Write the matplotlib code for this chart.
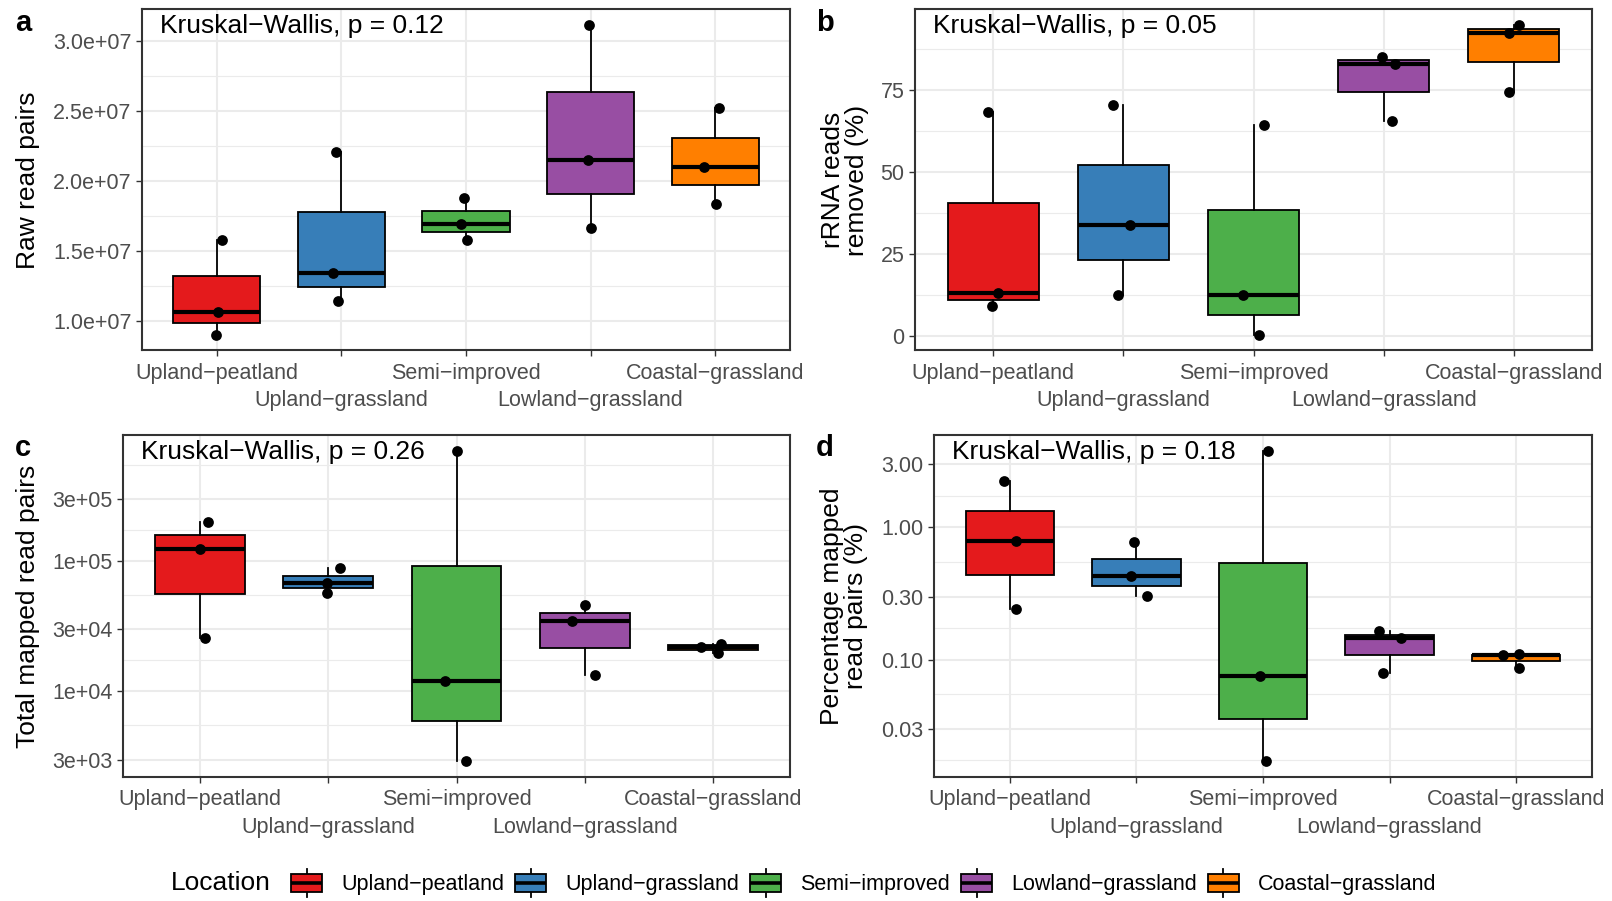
# Boxplots of read statistics per location (4 panels)
import numpy as np
import matplotlib
matplotlib.use("Agg")
import matplotlib.pyplot as plt
from matplotlib.patches import Rectangle
from matplotlib.lines import Line2D
from matplotlib.legend_handler import HandlerBase

plt.rcParams['font.family'] = ['Liberation Sans', 'DejaVu Sans']

# categories (in plotting order)
locations = ["Upland\u2212peatland", "Upland\u2212grassland", "Semi\u2212improved",
             "Lowland\u2212grassland", "Coastal\u2212grassland"]
colors = ["#E41A1C", "#377EB8", "#4DAF4A", "#984EA3", "#FF7F00"]

# values, three samples per location
raw_pairs = [[1.576e7, 1.062e7, 0.902e7],
             [2.207e7, 1.343e7, 1.14e7],
             [1.876e7, 1.69e7, 1.576e7],
             [3.119e7, 2.148e7, 1.662e7],
             [2.519e7, 2.10e7, 1.838e7]]
rrna_removed = [[68.3, 13.0, 9.1],
                [70.6, 33.8, 12.4],
                [64.3, 12.6, 0.5],
                [85.1, 83.0, 65.6],
                [95.0, 92.5, 74.5]]
total_mapped = [[2.01e5, 1.24e5, 2.56e4],
                [8.84e4, 6.8e4, 5.7e4],
                [7.06e5, 1.2e4, 2.9e3],
                [4.64e4, 3.47e4, 1.33e4],
                [2.19e4, 2.33e4, 1.98e4]]
pct_mapped = [[2.24, 0.787, 0.240],
              [0.778, 0.428, 0.302],
              [3.81, 0.0756, 0.017],
              [0.164, 0.146, 0.0797],
              [0.108, 0.110, 0.0869]]
p_values = ["0.12", "0.05", "0.26", "0.18"]

# horizontal jitter of the points as seen in the figure
jitter_x = [[[0.04, 0.01, -0.01], [-0.04, -0.065, -0.03], [-0.02, -0.04, 0.01], [-0.01, -0.02, 0.0], [0.03, -0.09, 0.01]],
            [[-0.04, 0.04, -0.01], [-0.08, 0.05, -0.04], [0.08, -0.08, 0.04], [-0.01, 0.09, 0.06], [0.04, -0.04, -0.04]],
            [[0.06, 0.0, 0.04], [0.09, -0.01, -0.01], [0.0, -0.09, 0.075], [0.0, -0.1, 0.08], [-0.09, 0.06, 0.035]],
            [[-0.05, 0.05, 0.05], [-0.02, -0.04, 0.08], [0.04, -0.02, 0.02], [-0.08, 0.09, -0.05], [-0.1, 0.02, 0.02]]]

# y axis ticks per panel
ticks_a = [1.0e7, 1.5e7, 2.0e7, 2.5e7, 3.0e7]
labels_a = ["1.0e+07", "1.5e+07", "2.0e+07", "2.5e+07", "3.0e+07"]
ticks_b = [0, 25, 50, 75]
labels_b = ["0", "25", "50", "75"]
ticks_c = [3e3, 1e4, 3e4, 1e5, 3e5]
labels_c = ["3e+03", "1e+04", "3e+04", "1e+05", "3e+05"]
ticks_d = [0.03, 0.10, 0.30, 1.00, 3.00]
labels_d = ["0.03", "0.10", "0.30", "1.00", "3.00"]

W, H = 1612, 901
fig = plt.figure(figsize=(W / 100, H / 100), dpi=100)

TICK_COL = "#4D4D4D"
FS_TICK = 15.5
FS_TITLE = 19


def px_axes(left, top, right, bottom):
    return fig.add_axes([left / W, 1 - bottom / H, (right - left) / W, (bottom - top) / H])


def draw_panel(ax, data, jit, log, ticks, tick_labels, pval):
    vals = [np.log10(d) if log else np.array(d, dtype=float) for d in data]
    tks = np.log10(ticks) if log else np.array(ticks, dtype=float)
    pos = np.arange(1, len(vals) + 1)
    bp = ax.boxplot(vals, positions=pos, widths=0.7, patch_artist=True,
                    showcaps=False, showfliers=False,
                    boxprops=dict(edgecolor="black", linewidth=1.3),
                    whiskerprops=dict(color="black", linewidth=1.3),
                    medianprops=dict(color="black", linewidth=3.0, solid_capstyle="butt"))
    for patch, c in zip(bp["boxes"], colors):
        patch.set_facecolor(c)
    for i, v in enumerate(vals):
        ax.scatter(pos[i] + np.array(jit[i]), v, s=60, color="black", zorder=5, linewidths=0)

    allv = np.concatenate(vals)
    lo, hi = allv.min(), allv.max()
    pad = 0.05 * (hi - lo)

    # minor grid halfway between the major ticks (log panels: steps alternate)
    if log:
        ext = np.concatenate([[tks[0] - (tks[2] - tks[1])], tks, [tks[-1] + (tks[-1] - tks[-2]) * 0 + (tks[1] - tks[0])]])
    else:
        step = tks[1] - tks[0]
        ext = np.concatenate([[tks[0] - step], tks, [tks[-1] + step]])
    minors = (ext[:-1] + ext[1:]) / 2
    minors = minors[(minors > lo - pad) & (minors < hi + pad)]
    ax.set_yticks(tks)
    ax.set_yticklabels(tick_labels)
    ax.set_yticks(minors, minor=True)
    ax.set_xticks(pos)
    ax.set_xticklabels(locations)
    ax.set_ylim(lo - pad, hi + pad)
    ax.set_xlim(0.4, len(vals) + 0.6)

    ax.set_axisbelow(True)
    ax.grid(which="major", color="#EBEBEB", linewidth=1.5)
    ax.grid(which="minor", axis="y", color="#EBEBEB", linewidth=0.8)
    ax.tick_params(which="major", length=4.5, width=1.0, color="#333333",
                   labelsize=FS_TICK, labelcolor=TICK_COL, pad=3)
    ax.tick_params(axis="x", pad=4.5)
    ax.tick_params(which="minor", length=0)
    # second row of x labels for every other location
    for i, t in enumerate(ax.xaxis.get_major_ticks()):
        if i % 2:
            t.set_pad(24)
    for sp in ax.spines.values():
        sp.set_color("#333333")
        sp.set_linewidth(1.5)
    ax.annotate("Kruskal\u2212Wallis, p = " + pval, xy=(0, 1), xycoords="axes fraction",
                xytext=(13, -12), textcoords="offset points", ha="left", va="center",
                fontsize=FS_TITLE, color="black")


ax_a = px_axes(142, 9, 790, 350)
ax_b = px_axes(915, 9, 1592, 350)
ax_c = px_axes(123, 435, 790, 777)
ax_d = px_axes(934, 435, 1592, 777)

draw_panel(ax_a, raw_pairs, jitter_x[0], False, ticks_a, labels_a, p_values[0])
draw_panel(ax_b, rrna_removed, jitter_x[1], False, ticks_b, labels_b, p_values[1])
draw_panel(ax_c, total_mapped, jitter_x[2], True, ticks_c, labels_c, p_values[2])
draw_panel(ax_d, pct_mapped, jitter_x[3], True, ticks_d, labels_d, p_values[3])

# y axis titles
fig.text(28 / W, 1 - 180 / H, "Raw read pairs", rotation=90, ha="center", va="center", fontsize=FS_TITLE)
fig.text(845 / W, 1 - 180 / H, "rRNA reads\nremoved (%)", rotation=90, ha="center", va="center",
         fontsize=FS_TITLE, multialignment="center", linespacing=0.95)
fig.text(28 / W, 1 - 606 / H, "Total mapped read pairs", rotation=90, ha="center", va="center", fontsize=FS_TITLE)
fig.text(844 / W, 1 - 606 / H, "Percentage mapped\nread pairs (%)", rotation=90, ha="center", va="center",
         fontsize=FS_TITLE, multialignment="center", linespacing=0.95)

# panel letters
for lab, x, y in [("a", 15, 23), ("b", 816, 23), ("c", 15, 448), ("d", 816, 448)]:
    fig.text(x / W, 1 - y / H, lab, fontsize=21, fontweight="bold", ha="left", va="center")


# legend key drawn like a little boxplot
class BoxKey(HandlerBase):
    def create_artists(self, legend, orig_handle, xdescent, ydescent, width, height, fontsize, trans):
        x0, y0 = -xdescent, -ydescent
        wh = Line2D([x0 + width / 2] * 2, [y0, y0 + height], color="black", lw=1.3, transform=trans)
        box = Rectangle((x0, y0 + height * 0.2), width, height * 0.6, facecolor=orig_handle.get_facecolor(),
                        edgecolor="black", lw=1.3, transform=trans)
        med = Line2D([x0, x0 + width], [y0 + height / 2] * 2, color="black", lw=2.6,
                     solid_capstyle="butt", transform=trans)
        return [wh, box, med]


handles = [Rectangle((0, 0), 1, 1, facecolor=c) for c in colors]
fig.legend(handles, locations, handler_map={Rectangle: BoxKey()}, ncol=5, frameon=False,
           loc="center left", bbox_to_anchor=(291 / W, 1 - 883 / H), borderpad=0, borderaxespad=0,
           fontsize=FS_TICK, handlelength=1.44, handleheight=1.67, handletextpad=0.9, columnspacing=0.5)
fig.text(171 / W, 1 - 883 / H, "Location", fontsize=FS_TITLE, ha="left", va="center")

fig.savefig("out.png", dpi=100)
